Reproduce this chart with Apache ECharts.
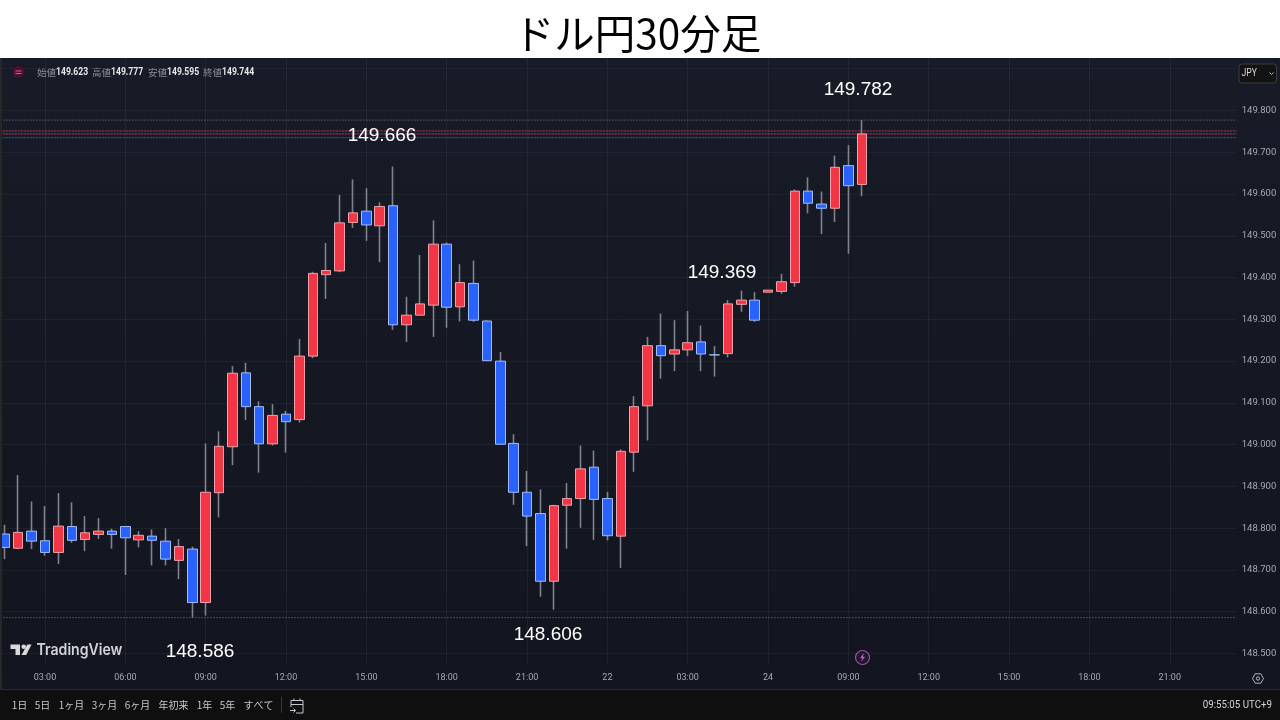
<!DOCTYPE html>
<html><head><meta charset="utf-8">
<style>html,body{margin:0;padding:0;background:#fff}#c{width:1280px;height:720px}</style>
<script src="https://cdn.jsdelivr.net/npm/echarts@6/dist/echarts.min.js"></script>
</head><body><div id="c"></div>
<script>
const categories=["01:00","01:30","02:00","02:30","03:00","03:30","04:00","04:30","05:00","05:30","06:00","06:30","07:00","07:30","08:00","08:30","09:00","09:30","10:00","10:30","11:00","11:30","12:00","12:30","13:00","13:30","14:00","14:30","15:00","15:30","16:00","16:30","17:00","17:30","18:00","18:30","19:00","19:30","20:00","20:30","21:00","21:30","22:00","22:30","23:00","23:30","22","00:30","01:00","01:30","02:00","02:30","03:00","03:30","04:00","04:30","05:00","05:30","24","00:30","01:00","01:30","02:00","02:30","09:00","09:30","10:00","10:30","11:00","11:30","12:00","12:30","13:00","13:30","14:00","14:30","15:00","15:30","16:00","16:30","17:00","17:30","18:00","18:30","19:00","19:30","20:00","20:30","21:00","21:30","22:00","22:30","23:00","23:30"];
const opens=[148.786,148.752,148.793,148.770,148.742,148.804,148.773,148.785,148.793,148.804,148.772,148.781,148.769,148.723,148.750,148.622,148.885,148.995,149.172,149.091,149.002,149.073,149.060,149.212,149.407,149.416,149.532,149.559,149.524,149.572,149.287,149.310,149.334,149.480,149.330,149.386,149.296,149.200,149.003,148.886,148.835,148.673,148.855,148.871,148.946,148.871,148.781,148.982,149.093,149.237,149.217,149.227,149.246,149.215,149.218,149.336,149.346,149.365,149.367,149.388,149.607,149.576,149.566,149.668,149.623];
const closes=[148.754,148.790,148.769,148.742,148.805,148.771,148.789,148.793,148.785,148.777,148.783,148.771,148.726,148.756,148.622,148.886,148.996,149.171,149.091,149.002,149.070,149.055,149.212,149.410,149.417,149.531,149.555,149.526,149.570,149.287,149.310,149.337,149.480,149.329,149.388,149.298,149.201,149.001,148.886,148.829,148.673,148.854,148.871,148.942,148.869,148.782,148.984,149.091,149.237,149.213,149.227,149.244,149.217,149.215,149.337,149.346,149.298,149.370,149.390,149.607,149.578,149.566,149.664,149.620,149.744];
const lows=[148.726,148.750,148.750,148.734,148.714,148.765,148.745,148.774,148.751,148.688,148.754,148.711,148.711,148.678,148.586,148.591,148.826,148.951,149.059,148.933,148.998,148.981,149.053,149.207,149.349,149.413,149.519,149.488,149.437,149.275,149.246,149.310,149.258,149.280,149.295,149.294,149.201,149.001,148.856,148.757,148.636,148.605,148.751,148.801,148.772,148.771,148.705,148.935,149.010,149.158,149.176,149.212,149.176,149.163,149.209,149.318,149.294,149.365,149.361,149.378,149.554,149.504,149.533,149.457,149.595];
const highs=[148.808,148.927,148.864,148.853,148.884,148.862,148.829,148.824,148.799,148.805,148.793,148.797,148.800,148.774,148.756,149.003,149.032,149.188,149.196,149.104,149.097,149.081,149.253,149.414,149.483,149.598,149.635,149.614,149.580,149.666,149.354,149.454,149.537,149.484,149.432,149.441,149.298,149.222,149.025,148.937,148.893,148.856,148.908,148.998,148.986,148.887,148.989,149.116,149.258,149.314,149.298,149.320,149.285,149.236,149.346,149.369,149.365,149.370,149.409,149.611,149.640,149.606,149.692,149.717,149.777];
const priceLines=[{v:149.777,c:'#7d808a'},{v:149.751,c:'#c04a66',u:'rgba(190,50,80,0.4)'},{v:149.744,c:'#c04a66',u:'rgba(190,50,80,0.4)'},{v:149.735,c:'#4a62c8',u:'rgba(60,80,190,0.35)'},{v:148.586,c:'#7d808a'}];
const annotations=[{t:'149.782',x:858,y:90},{t:'149.666',x:382,y:136},{t:'149.369',x:722,y:273},{t:'148.606',x:548,y:635},{t:'148.586',x:200,y:652}];
const legendItems=[{k:'始値',v:'149.623',x:37},{k:'高値',v:'149.777',x:92},{k:'安値',v:'149.595',x:148},{k:'終値',v:'149.744',x:203}];
const ranges=[{t:'1日',x:19.5},{t:'5日',x:42.5},{t:'1ヶ月',x:71.5},{t:'3ヶ月',x:104.5},{t:'6ヶ月',x:137.5},{t:'年初来',x:173.5},{t:'1年',x:204.5},{t:'5年',x:227.5},{t:'すべて',x:258.5}];

const AXF='Roboto,sans-serif';
const CJK='"Noto Sans CJK JP",sans-serif';
const wickData=[['-','-','-','-']].concat(opens.map((o,i)=>[o,closes[i],lows[i],highs[i]]));
const bodyData=[['-','-','-','-']].concat(opens.map((o,i)=>[o,closes[i],Math.min(o,closes[i]),Math.max(o,closes[i])]));
const isTick=i=>i%6===4 && i<92;
const yMin=148.4,yMax=150,yStep=0.1;
const g=[];
const sq=(text,x,y,font,fill,sx,align)=>({type:'text',z:20,silent:true,x:x,y:y,scaleX:sx,style:{text:text,x:0,y:0,align:align||'left',verticalAlign:'middle',font:font,fill:fill}});
g.push({type:'rect',z:3,silent:true,shape:{x:0,y:0,width:1280,height:58},style:{fill:'#ffffff'}});
g.push({type:'rect',z:3,silent:true,shape:{x:0,y:665,width:1280,height:25},style:{fill:'#131620'}});
g.push({type:'rect',z:3,silent:true,shape:{x:0,y:690,width:1280,height:30},style:{fill:'#0f0f0f'}});
g.push({type:'rect',z:3,silent:true,shape:{x:0,y:689,width:1280,height:1},style:{fill:'#2a2c33'}});
g.push({type:'rect',z:3,silent:true,shape:{x:0,y:58,width:2,height:632},style:{fill:'#26272b'}});
g.push({type:'text',z:20,silent:true,style:{text:'ドル円30分足',x:637.5,y:34,align:'center',verticalAlign:'middle',font:'40.5px '+CJK,fill:'#000'}});
annotations.forEach(a=>g.push({type:'text',z:20,silent:true,style:{text:a.t,x:a.x,y:a.y,align:'center',verticalAlign:'middle',font:'19px "Liberation Sans",Arial,sans-serif',fill:'#fff'}}));
legendItems.forEach(l=>{
  g.push({type:'text',z:20,silent:true,style:{text:l.k,x:l.x,y:72.5,verticalAlign:'middle',font:'9.5px '+CJK,fill:'#8b8e96'}});
  g.push(sq(l.v,l.x+19,72.5,'bold 10.5px '+AXF,'#e6e7ea',0.82));
});
g.push({type:'circle',z:20,silent:true,shape:{cx:18.5,cy:72,r:6},style:{fill:'#4a1230'}});
g.push({type:'polyline',z:21,silent:true,shape:{points:[[15.5,71],[21.5,71]]},style:{stroke:'#e8557f',lineWidth:1,fill:null}});
g.push({type:'polyline',z:21,silent:true,shape:{points:[[15.5,73.5],[21.5,73.5]]},style:{stroke:'#e8557f',lineWidth:1,fill:null}});
g.push({type:'rect',z:20,silent:true,shape:{x:1239,y:64,width:37.5,height:19,r:3},style:{fill:'#131313',stroke:'#3b3d42',lineWidth:1}});
g.push(sq('JPY',1241.5,73.5,'10.5px '+AXF,'#d6d8dd',0.82));
g.push({type:'polyline',z:21,silent:true,shape:{points:[[1269.5,72.5],[1271.5,74.5],[1273.5,72.5]]},style:{stroke:'#b2b5be',lineWidth:1,fill:null}});
// logo
g.push({type:'polygon',z:20,silent:true,shape:{points:[[10.5,644.5],[20,644.5],[20,655],[15.5,655],[15.5,649],[10.5,649]]},style:{fill:'#d8d9dc'}});
g.push({type:'circle',z:20,silent:true,shape:{cx:23.7,cy:646.8,r:2.3},style:{fill:'#d8d9dc'}});
g.push({type:'polygon',z:20,silent:true,shape:{points:[[27.3,644.5],[31.5,644.5],[26.2,655],[21.5,655]]},style:{fill:'#d8d9dc'}});
g.push(sq('TradingView',36.5,650.5,'600 15.5px Inter,sans-serif','#d1d3d8',0.91));
// bolt
g.push({type:'circle',z:20,silent:true,shape:{cx:862.5,cy:657.5,r:7},style:{fill:'rgba(171,71,188,0.08)',stroke:'#a04bb0',lineWidth:1.2}});
g.push({type:'polygon',z:21,silent:true,shape:{points:[[864,653],[860,658],[862.3,658],[861,662],[865,656.8],[862.8,656.8]]},style:{fill:'#c060d0'}});
// settings
g.push({type:'polygon',z:20,silent:true,shape:{points:[[1252.5,678.5],[1255.2,673.8],[1260.8,673.8],[1263.5,678.5],[1260.8,683.2],[1255.2,683.2]]},style:{fill:'none',stroke:'#b2b5be',lineWidth:1}});
g.push({type:'circle',z:20,silent:true,shape:{cx:1258,cy:678.5,r:1.7},style:{fill:'none',stroke:'#b2b5be',lineWidth:1}});
// toolbar
ranges.forEach(r=>g.push({type:'text',z:20,silent:true,style:{text:r.t,x:r.x,y:705,align:'center',verticalAlign:'middle',font:'10px '+CJK,fill:'#c5c7cc'}}));
g.push({type:'rect',z:20,silent:true,shape:{x:281,y:697,width:1,height:16},style:{fill:'#35373c'}});
[[[291,707],[291,700.5],[303,700.5],[303,713],[296,713]],[[291,704.5],[303,704.5]],[[294,698.5],[294,701]],[[300,698.5],[300,701]],[[290,710.5],[295,710.5]],[[293.5,708.5],[295.5,710.5],[293.5,712.5]]].forEach(p=>
  g.push({type:'polyline',z:20,silent:true,shape:{points:p},style:{stroke:'#c5c7cc',lineWidth:1,fill:null}}));
g.push(sq('09:55:05 UTC+9',1272,705,'11px '+AXF,'#d1d3d8',0.885,'right'));

const levelSeries=(v,color,dash)=>({type:'line',xAxisIndex:0,yAxisIndex:0,z:1.5,silent:true,showSymbol:false,symbol:'none',animation:false,
  data:categories.map(()=>v),lineStyle:{color:color,type:dash,width:1,opacity:1},itemStyle:{color:color}});
const lineSeries=[];
priceLines.forEach(p=>{
  if(p.u) lineSeries.push(levelSeries(p.v,p.u,'solid'));
  lineSeries.push(levelSeries(p.v,p.c,[1,2]));
});
const chart=echarts.init(document.getElementById('c'),null,{renderer:'canvas',width:1280,height:720});
chart.setOption({
  animation:false,
  backgroundColor:new echarts.graphic.LinearGradient(0,0,0,1,[{offset:0,color:'#181c28'},{offset:1,color:'#12151f'}]),
  grid:{left:-8.56,top:26.96,width:1245.26,height:668.32,containLabel:false,outerBoundsMode:'none'},
  xAxis:[
    {type:'category',data:categories,boundaryGap:false,z:0,axisLine:{show:false},axisTick:{show:false},axisLabel:{show:false},
     splitLine:{show:true,interval:(i)=>isTick(i),lineStyle:{color:'rgba(255,255,255,0.055)',width:1}}},
    {type:'category',data:categories,boundaryGap:false,z:10,position:'bottom',offset:-24,axisLine:{show:false},axisTick:{show:false},splitLine:{show:false},
     axisLabel:{interval:(i)=>isTick(i),margin:0,color:'#a6a9b1',fontSize:9,fontFamily:AXF,verticalAlign:'top',lineHeight:12,hideOverlap:false}}
  ],
  yAxis:[
    {type:'value',min:yMin,max:yMax,interval:yStep,position:'right',scale:true,z:0,axisLine:{show:false},axisTick:{show:false},axisLabel:{show:false},
     splitLine:{show:true,lineStyle:{color:'rgba(255,255,255,0.045)',width:1}}},
    {type:'value',min:yMin,max:yMax,interval:yStep,position:'right',scale:true,z:10,axisLine:{show:false},axisTick:{show:false},splitLine:{show:false},
     axisLabel:{margin:5,color:'#a6a9b1',fontSize:9.5,fontFamily:AXF,formatter:v=>(v>149.85||v<148.45)?'':v.toFixed(3)}}
  ],
  graphic:{elements:g},
  series:lineSeries.concat([
    {type:'candlestick',name:'wick',xAxisIndex:0,yAxisIndex:0,z:2,barWidth:1,silent:true,data:wickData,
     itemStyle:{color:'#7f828c',color0:'#7f828c',borderColor:'#7f828c',borderColor0:'#7f828c',borderWidth:1.6}},
    {type:'candlestick',name:'body',xAxisIndex:0,yAxisIndex:0,z:2.5,barWidth:10,silent:true,data:bodyData,
     itemStyle:{color:'#f23645',color0:'#2962ff',borderColor:'#eea3ac',borderColor0:'#a3bdf5',borderWidth:1}}
  ])
});
</script></body></html>
